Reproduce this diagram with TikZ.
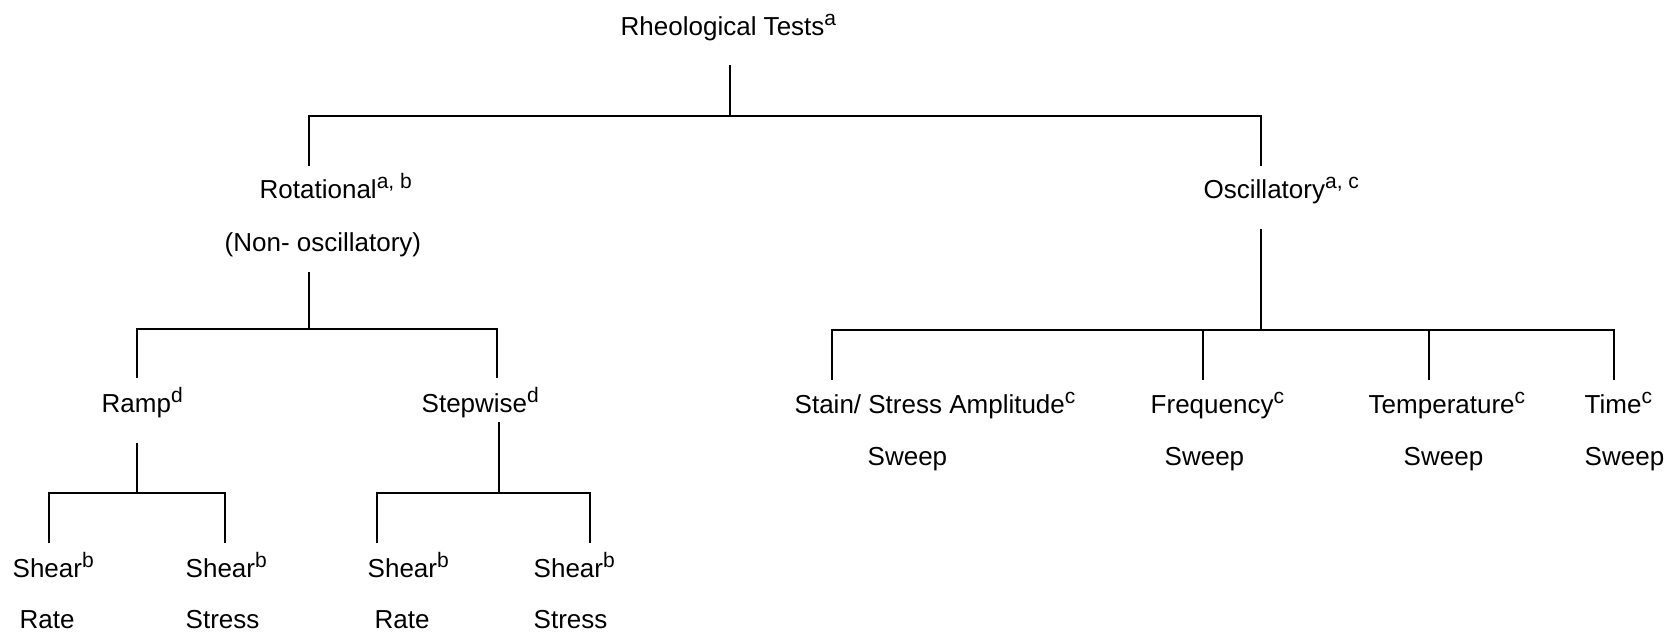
\documentclass[tikz,border=0pt]{standalone}
\usepackage{fontspec}
\setmainfont{Liberation Sans}
\newcommand{\upr}[1]{\raisebox{5pt}{\fontsize{10.5}{10.5}\selectfont #1}}

\begin{document}
\begin{tikzpicture}[x=0.5pt,y=-0.5pt,line width=0.7pt,main/.style={anchor=base west, inner sep=0pt, font=\fontsize{13}{15}\selectfont}]
    \useasboundingbox (0,0) rectangle (1679,637);

    \node[main] (0) at (620,35) {Rheological Tests\upr{a}};

    \node[main] (1) at (259,198) {Rotational\upr{a, b}};
    \node[main] (2) at (224,251) {(Non- oscillatory)};
    \node[main] (3) at (1203,198) {Oscillatory\upr{a, c}};

    \node[main] (4) at (101,412) {Ramp\upr{d}};
    \node[main] (5) at (421,412) {Stepwise\upr{d}};

    \node[main] (6) at (794,413) {Stain/ Stress Amplitude\upr{c}};
    \node[main] (7) at (867,465) {Sweep};
    \node[main] (8) at (1150,413) {Frequency\upr{c}};
    \node[main] (9) at (1164,465) {Sweep};
    \node[main] (10) at (1368,413) {Temperature\upr{c}};
    \node[main] (11) at (1403,465) {Sweep};
    \node[main] (12) at (1584,413) {Time\upr{c}};
    \node[main] (13) at (1584,465) {Sweep};

    \node[main] (14) at (12,577) {Shear\upr{b}};
    \node[main] (15) at (19,628) {Rate};
    \node[main] (16) at (185,577) {Shear\upr{b}};
    \node[main] (17) at (185,628) {Stress};
    \node[main] (18) at (367,577) {Shear\upr{b}};
    \node[main] (19) at (374,628) {Rate};
    \node[main] (20) at (533,577) {Shear\upr{b}};
    \node[main] (21) at (533,628) {Stress};

    % stem ends and joints
    \coordinate (0b) at (730,65);
    \coordinate (j0) at (730,116);
    \coordinate (1t) at (309,166);
    \coordinate (3t) at (1261,166);
    \coordinate (2b) at (309,272);
    \coordinate (j1) at (309,329);
    \coordinate (4t) at (137,378);
    \coordinate (5t) at (497,378);
    \coordinate (4b) at (137,443);
    \coordinate (j4) at (137,493);
    \coordinate (5b) at (499,422);
    \coordinate (j5) at (499,493);
    \coordinate (14t) at (49,543);
    \coordinate (16t) at (225,543);
    \coordinate (18t) at (377,543);
    \coordinate (20t) at (590,543);
    \coordinate (3b) at (1261,229);
    \coordinate (j3) at (1261,330);
    \coordinate (6t) at (832,380);
    \coordinate (8t) at (1203,380);
    \coordinate (10t) at (1429,380);
    \coordinate (12t) at (1614,380);

    \draw (0b) -- (j0);
    \draw (1t) |- (j0) -| (3t);
    \draw (2b) -- (j1);
    \draw (4t) |- (j1) -| (5t);
    \draw (4b) -- (j4);
    \draw (14t) |- (j4) -| (16t);
    \draw (5b) -- (j5);
    \draw (18t) |- (j5) -| (20t);
    \draw (3b) -- (j3);
    \draw (6t) |- (j3) -| (12t);
    \draw (8t) -- (8t |- j3);
    \draw (10t) -- (10t |- j3);
\end{tikzpicture}
\end{document}
